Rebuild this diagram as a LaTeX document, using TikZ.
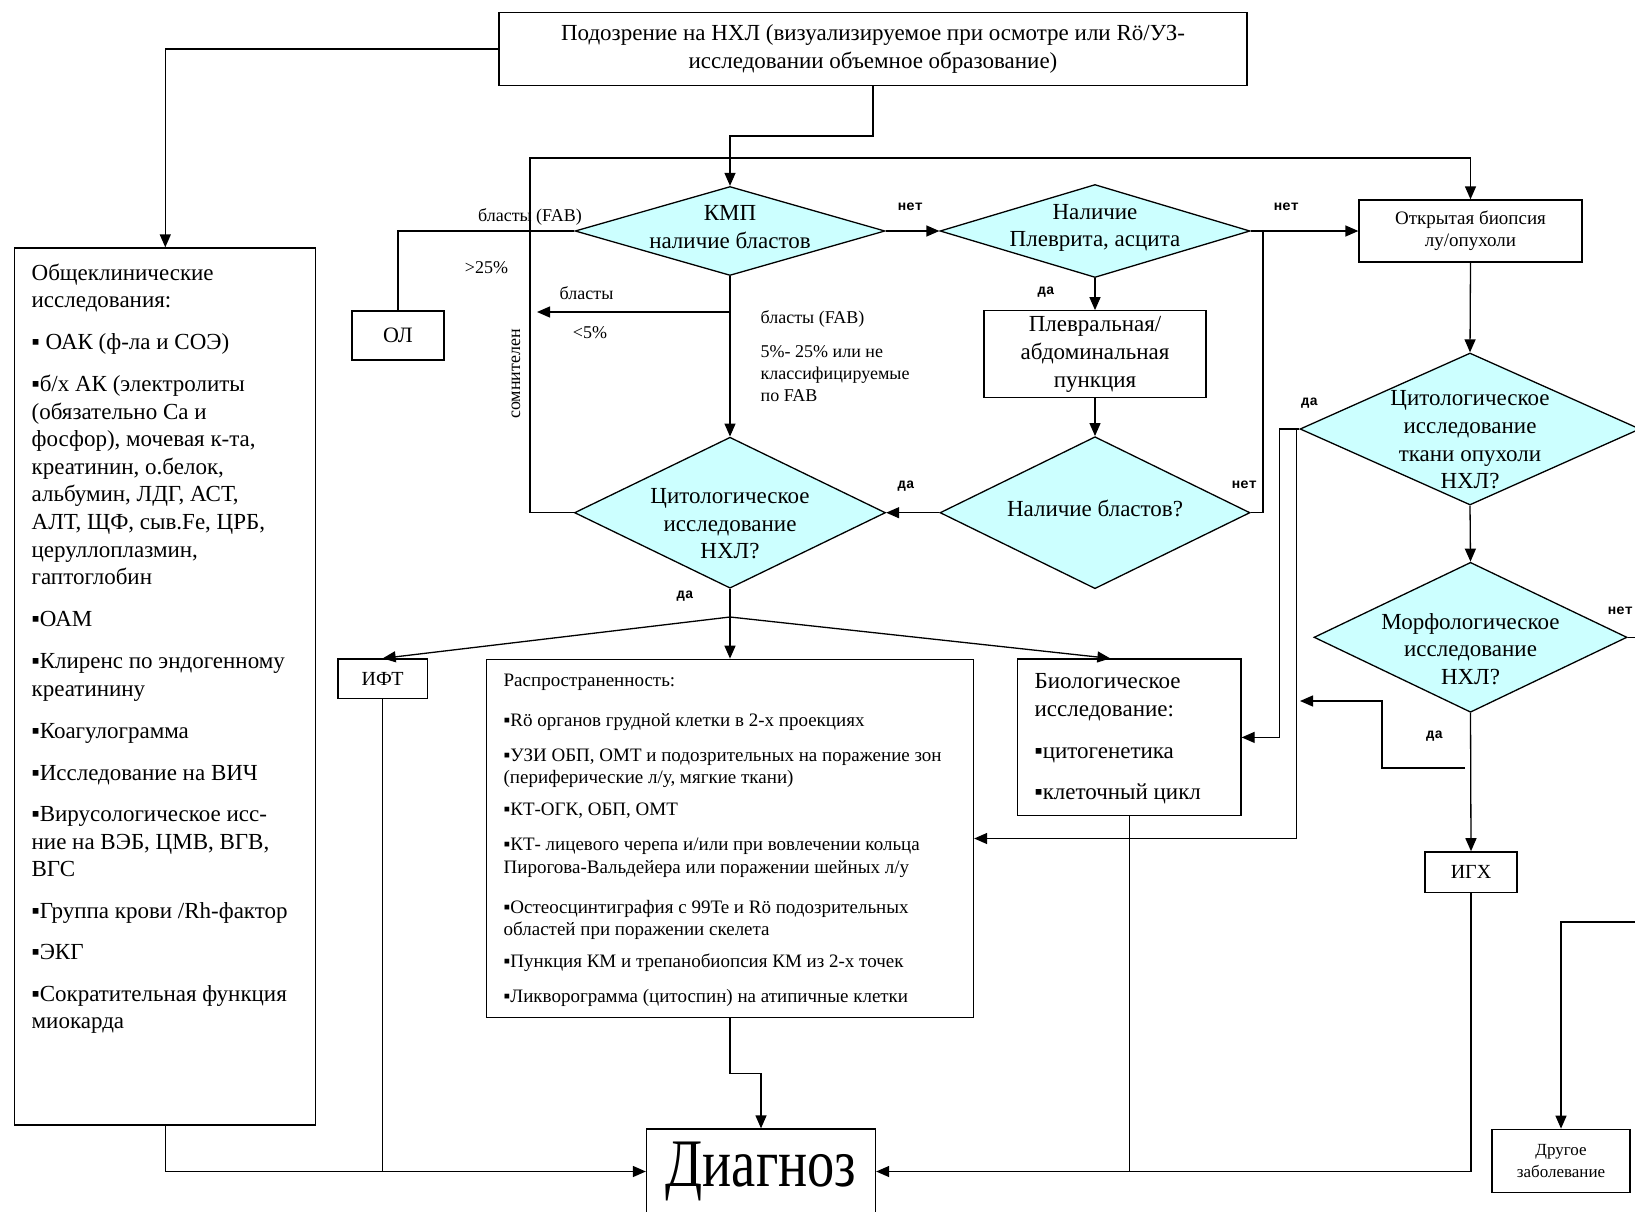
\documentclass[tikz,border=0pt]{standalone}
\usepackage{fontspec}
\setmainfont{Liberation Serif}
\newfontfamily\labfont{Liberation Mono}
\usetikzlibrary{shapes.geometric,arrows.meta}
\definecolor{decfill}{RGB}{204,255,255}

\begin{document}
\begin{tikzpicture}[x=1pt,y=1pt,yscale=-1,
  line width=1.3pt,
  box/.style={draw,rectangle,inner sep=0pt},
  decision/.style={draw,diamond,fill=decfill,inner sep=0pt},
  arr/.style={-{Triangle[length=13pt,width=11pt]}},
  mtext/.style={font=\fontsize{23}{27.6}\selectfont,align=center,inner sep=0pt},
  listtext/.style={font=\fontsize{23}{27.6}\selectfont,align=left,inner sep=0pt,anchor=north west},
  smalltext/.style={font=\fontsize{19}{22.5}\selectfont,align=left,inner sep=0pt,anchor=north west},
  note/.style={font=\fontsize{18}{22}\selectfont,align=left,inner sep=0pt},
  yn/.style={font=\labfont\bfseries\fontsize{14}{16}\selectfont,inner sep=0pt}]
\useasboundingbox (0,0) rectangle (1635,1212);
\clip (0,0) rectangle (1635,1212);

%Shape: Rectangle [top]
\node[box,mtext,minimum width=748pt,minimum height=73pt] (susp) at (873,49)
  {Подозрение на НХЛ (визуализируемое при осмотре или Rö/УЗ-\\исследовании объемное образование)};

%Shape: Rectangle [general tests]
\node[box,minimum width=301pt,minimum height=877pt] (gen) at (165.3,686.5) {};
% Text Node
\node[listtext] (gentxt) at (31,263) {Общеклинические\\исследования:\\[14pt]
  ▪ ОАК (ф-ла и СОЭ)\\[14.5pt]
  ▪б/х АК (электролиты\\(обязательно Са и\\фосфор), мочевая к-та,\\креатинин, о.белок,\\альбумин, ЛДГ, АСТ,\\АЛТ, ЩФ, сыв.Fe, ЦРБ,\\церуллоплазмин,\\гаптоглобин\\[14.5pt]
  ▪ОАМ\\[14.5pt]
  ▪Клиренс по эндогенному\\креатинину\\[14.5pt]
  ▪Коагулограмма\\[14pt]
  ▪Исследование на ВИЧ\\[14pt]
  ▪Вирусологическое исс-\\ние на ВЭБ, ЦМВ, ВГВ,\\ВГС\\[14pt]
  ▪Группа крови /Rh-фактор\\[13.5pt]
  ▪ЭКГ\\[14pt]
  ▪Сократительная функция\\миокарда};

%Shape: Diamond [KMP]
\node[decision,minimum width=310pt,minimum height=89pt] (kmp) at (730,231) {};
\node[mtext] (kmptxt) at (730,227) {КМП\\наличие бластов};
%Shape: Diamond [pleura]
\node[decision,minimum width=310pt,minimum height=93pt] (plev) at (1095,231) {};
\node[mtext] (plevtxt) at (1095,228) {Наличие\\Плеврита, асцита};
%Shape: Rectangle [puncture]
\node[box,mtext,minimum width=222pt,minimum height=87pt] (punct) at (1095,354.3)
  {Плевральная/\\абдоминальная\\пункция};
%Shape: Diamond [blasts]
\node[decision,minimum width=310pt,minimum height=152pt] (blast) at (1095,512.7) {};
\node[mtext] (blasttxt) at (1095,508.3) {Наличие бластов?};
%Shape: Diamond [cytology]
\node[decision,minimum width=311pt,minimum height=151pt] (cyto) at (730,512.7) {};
\node[mtext] (cytotxt) at (730,524) {Цитологическое\\исследование\\НХЛ?};
%Shape: Rectangle [AL]
\node[box,font=\fontsize{22}{26}\selectfont,minimum width=92pt,minimum height=49pt] (ol) at (398,335.5) {ОЛ};

%Shape: Rectangle [biopsy]
\node[box,mtext,font=\fontsize{19}{21.6}\selectfont,minimum width=223pt,minimum height=62pt] (biopsy) at (1470.5,231)
  {Открытая биопсия\\лу/опухоли};
%Shape: Diamond [tumour tissue]
\node[decision,minimum width=340pt,minimum height=152pt] (tissue) at (1470,429) {};
\node[mtext] (tissuetxt) at (1470,440) {Цитологическое\\исследование\\ткани опухоли\\НХЛ?};
%Shape: Diamond [morphology]
\node[decision,minimum width=313pt,minimum height=150pt] (morph) at (1470.5,637.3) {};
\node[mtext] (morphtxt) at (1470.5,649) {Морфологическое\\исследование\\НХЛ?};

%Shape: Rectangle [IFT]
\node[box,font=\fontsize{20}{24}\selectfont,minimum width=89.5pt,minimum height=39.6pt] (ift) at (382.7,678.8) {ИФТ};
%Shape: Rectangle [staging]
\node[box,minimum width=487pt,minimum height=358.4pt] (spread) at (730,838.5) {};
% Text Node
\node[smalltext] (spreadtxt) at (503,673) {Распространенность:\\[17.5pt]
  ▪Rö органов грудной клетки в 2-х проекциях\\[12.5pt]
  ▪УЗИ ОБП, ОМТ и подозрительных на поражение зон\\(периферические л/у, мягкие ткани)\\[9.5pt]
  ▪КТ-ОГК, ОБП, ОМТ\\[12.5pt]
  ▪КТ- лицевого черепа и/или при вовлечении кольца\\Пирогова-Вальдейера или поражении шейных л/у\\[17.5pt]
  ▪Остеосцинтиграфия с 99Te и Rö подозрительных\\областей при поражении скелета\\[9pt]
  ▪Пункция КМ и трепанобиопсия КМ из 2-х точек\\[12.5pt]
  ▪Ликворограмма (цитоспин) на атипичные клетки};
%Shape: Rectangle [biology]
\node[box,minimum width=223.4pt,minimum height=156.7pt] (bio) at (1129.3,737.4) {};
% Text Node
\node[listtext,font=\fontsize{23}{28}\selectfont] (biotxt) at (1034,673) {Биологическое\\исследование:\\[14pt]
  ▪цитогенетика\\[13pt]
  ▪клеточный цикл};
%Shape: Rectangle [IHC]
\node[box,font=\fontsize{20}{24}\selectfont,minimum width=92pt,minimum height=40.3pt] (igh) at (1471,872) {ИГХ};

%Shape: Rectangle [diagnosis]
\node[box,font=\fontsize{68}{68}\selectfont,minimum width=229pt,minimum height=85pt] (diag) at (761,1171.5)
  {\scalebox{0.8}[1]{Диагноз}};
%Shape: Rectangle [other disease]
\node[box,mtext,font=\fontsize{17}{22.7}\selectfont,minimum width=138pt,minimum height=63.4pt] (other) at (1561,1161)
  {Другое\\заболевание};

% Connectors
\coordinate (loop) at (530,158);
\coordinate (lowfork) at (730,312);
\coordinate (lowend) at (537,312);
\coordinate (njoin) at (1263,231);
\coordinate (split) at (730,617);
\coordinate (morphfork) at (1465,768);
\coordinate (morphbend) at (1382,701);
\coordinate (morphend) at (1300,701);
\coordinate (othertop) at (1561,922);

\draw[arr] (susp.west) -| (gen.north);
\draw[arr] (susp.south) -- ++(0,50) -| (kmp.north);
\draw[arr] (cyto.west) -| (loop) -| (biopsy.north);
\draw (kmp.west) -| (ol.north);
\draw[arr] (kmp.south) -- (cyto.north);
\draw[arr] (lowfork) -- (lowend);
\draw[arr] (kmp.east) -- (plev.west);
\draw[arr] (plev.south) -- (punct.north);
\draw[arr] (punct.south) -- (blast.north);
\draw[arr] (plev.east) -- (biopsy.west);
\draw (blast.east) -| (njoin);
\draw[arr] (blast.west) -- (cyto.east);
\draw (cyto.south) -- (split);
\draw[arr] (split) -- (ift.north);
\draw[arr] (split) -- (spread.north);
\draw[arr] (split) -- ([xshift=-19pt]bio.north);
\draw[arr] (biopsy.south) -- (tissue.north);
\draw[arr] (tissue.south) -- (morph.north);
\draw[arr] (tissue.west) -- ++(-20,0) |- (bio.east);
\draw[arr] (tissue.west) -- ++(-3,0) |- (spread.east);
\draw[arr] (morph.south) -- (igh.north);
\draw[arr] (morphfork) -| (morphbend) -- (morphend);
\draw[arr] (morph.east) -- ++(35,0) |- (othertop) -- (other.north);
\draw[arr] (igh.south) |- (diag.east);
\draw (bio.south) -- (bio.south |- diag.east);
\draw[arr] (gen.south) |- (diag.west);
\draw (ift.south) -- (ift.south |- diag.west);
\draw[arr] (spread.south) -- ++(0,55) -| (diag.north);

% Text Node
\node[note] (fab1) at (530,216.7) {бласты (FAB)};
\node[note] (gt25) at (486.5,268) {>25\%};
\node[note] (bl5) at (586.5,292.7) {бласты};
\node[note] (lt5) at (590,333) {<5\%};
\node[note,anchor=north west] (fabmid) at (760,310) {бласты (FAB)\\[12pt]5\%- 25\% или не\\классифицируемые\\по FAB};
\node[note,rotate=90] (doubt) at (516,374) {сомнителен};
\node[yn] (no1) at (910.5,207) {нет};
\node[yn] (yes1) at (1046,291.7) {да};
\node[yn] (no2) at (1286.5,206.7) {нет};
\node[yn] (no3) at (1244.5,485) {нет};
\node[yn] (yes2) at (906,486) {да};
\node[yn] (yes3) at (685,596) {да};
\node[yn] (yes4) at (1309.5,402.7) {да};
\node[yn] (yes5) at (1434.5,735.7) {да};
\node[yn] (no4) at (1620.5,610.7) {нет};

\end{tikzpicture}
\end{document}
